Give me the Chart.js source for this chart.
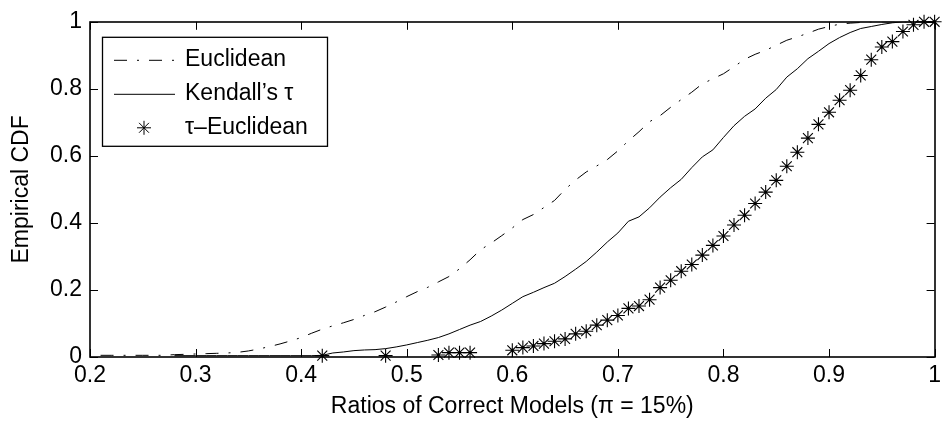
<!DOCTYPE html>
<html>
<head>
<meta charset="utf-8">
<title>Empirical CDF</title>
<script src="https://cdn.jsdelivr.net/npm/chart.js@4.4.1/dist/chart.umd.min.js"></script>
<style>
  html, body { margin: 0; padding: 0; background: #fff; }
  #wrap { width: 946px; height: 427px; }
</style>
</head>
<body>
<div id="wrap"><canvas id="cdfChart"></canvas></div>
<script>
// ratio of correct models on the x axis, one sample every 0.01
const ratios = [
  0.21, 0.22, 0.23, 0.24, 0.25, 0.26, 0.27, 0.28, 0.29, 0.30,
  0.31, 0.32, 0.33, 0.34, 0.35, 0.36, 0.37, 0.38, 0.39, 0.40,
  0.41, 0.42, 0.43, 0.44, 0.45, 0.46, 0.47, 0.48, 0.49, 0.50,
  0.51, 0.52, 0.53, 0.54, 0.55, 0.56, 0.57, 0.58, 0.59, 0.60,
  0.61, 0.62, 0.63, 0.64, 0.65, 0.66, 0.67, 0.68, 0.69, 0.70,
  0.71, 0.72, 0.73, 0.74, 0.75, 0.76, 0.77, 0.78, 0.79, 0.80,
  0.81, 0.82, 0.83, 0.84, 0.85, 0.86, 0.87, 0.88, 0.89, 0.90,
  0.91, 0.92, 0.93, 0.94, 0.95, 0.96, 0.97, 0.98, 0.99, 1.00
];

const euclideanCdf = [
  0.005, 0.005, 0.005, 0.005, 0.005, 0.005, 0.005, 0.007, 0.008, 0.009,
  0.010, 0.011, 0.012, 0.014, 0.018, 0.024, 0.031, 0.039, 0.048, 0.058,
  0.071, 0.083, 0.093, 0.102, 0.112, 0.124, 0.135, 0.149, 0.164, 0.180,
  0.195, 0.208, 0.224, 0.240, 0.263, 0.290, 0.320, 0.340, 0.362, 0.385,
  0.410, 0.425, 0.446, 0.467, 0.500, 0.528, 0.552, 0.570, 0.589, 0.615,
  0.645, 0.672, 0.702, 0.720, 0.745, 0.768, 0.790, 0.815, 0.830, 0.845,
  0.866, 0.888, 0.903, 0.915, 0.930, 0.945, 0.955, 0.966, 0.978, 0.986,
  0.993, 0.996, 0.998, 1.000, 1.000, 1.000, 1.000, 1.000, 1.000, 1.000
];

const kendallCdf = [
  null, null, null, null, null, null, null, 0.004, 0.004, 0.004,
  0.004, 0.004, 0.004, 0.004, 0.004, 0.004, 0.004, 0.004, 0.004, 0.004,
  0.004, 0.005, 0.012, 0.015, 0.019, 0.021, 0.022, 0.025, 0.030, 0.036,
  0.043, 0.050, 0.058, 0.069, 0.082, 0.095, 0.106, 0.122, 0.140, 0.160,
  0.180, 0.193, 0.207, 0.220, 0.240, 0.262, 0.285, 0.313, 0.343, 0.370,
  0.405, 0.418, 0.445, 0.477, 0.505, 0.530, 0.565, 0.597, 0.618, 0.655,
  0.690, 0.718, 0.740, 0.772, 0.798, 0.835, 0.860, 0.890, 0.912, 0.935,
  0.953, 0.968, 0.980, 0.986, 0.992, 0.997, 1.000, 1.000, 1.000, 1.000
];

const tauEuclideanCdf = [
  null, null, null, null, null, null, null, null, null, null,
  null, null, null, null, null, null, null, null, null, null,
  null, 0.004, null, null, null, null, null, 0.004, null, null,
  null, null, 0.006, 0.013, 0.013, 0.013, null, null, null, 0.020,
  0.028, 0.033, 0.040, 0.047, 0.054, 0.069, 0.077, 0.095, 0.110, 0.124,
  0.145, 0.152, 0.171, 0.207, 0.229, 0.256, 0.276, 0.304, 0.333, 0.361,
  0.394, 0.423, 0.458, 0.492, 0.527, 0.569, 0.611, 0.653, 0.694, 0.730,
  0.766, 0.796, 0.840, 0.887, 0.925, 0.941, 0.971, 0.991, 1.000, 1.000
];

const seriesNames = ['Euclidean', 'Kendall\u2019s \u03c4', '\u03c4\u2013Euclidean'];
const xTitle = 'Ratios of Correct Models (\u03c0 = 15%)';
const yTitle = 'Empirical CDF';

const FONT = '"Liberation Sans", Arial, Helvetica, sans-serif';
const DASH_DOT = [13, 10, 2, 10];
const STAR_R = 7;

Chart.defaults.font.family = FONT;
Chart.defaults.font.size = 23;
Chart.defaults.color = '#000';

function toPoints(values) {
  return ratios.map((x, i) => ({ x: x, y: values[i] }));
}

function drawStar(ctx, x, y, r) {
  const d = r * Math.SQRT1_2;
  ctx.beginPath();
  ctx.moveTo(x - r, y); ctx.lineTo(x + r, y);
  ctx.moveTo(x, y - r); ctx.lineTo(x, y + r);
  ctx.moveTo(x - d, y - d); ctx.lineTo(x + d, y + d);
  ctx.moveTo(x - d, y + d); ctx.lineTo(x + d, y - d);
  ctx.stroke();
}

// box around the axes with inward ticks on all four sides
const axesBox = {
  id: 'axesBox',
  afterDatasetsDraw(chart) {
    const { ctx, chartArea: a, scales } = chart;
    const tick = 8;
    ctx.save();
    ctx.strokeStyle = '#000';
    ctx.lineWidth = 1.6;
    ctx.strokeRect(Math.round(a.left), Math.round(a.top),
      Math.round(a.right - a.left), Math.round(a.bottom - a.top));
    ctx.lineWidth = 1;
    ctx.beginPath();
    scales.x.ticks.forEach(t => {
      const px = Math.round(scales.x.getPixelForValue(t.value)) + 0.5;
      ctx.moveTo(px, a.bottom); ctx.lineTo(px, a.bottom - tick);
      ctx.moveTo(px, a.top); ctx.lineTo(px, a.top + tick);
    });
    scales.y.ticks.forEach(t => {
      const py = Math.round(scales.y.getPixelForValue(t.value)) + 0.5;
      ctx.moveTo(a.left, py); ctx.lineTo(a.left + tick, py);
      ctx.moveTo(a.right, py); ctx.lineTo(a.right - tick, py);
    });
    ctx.stroke();
    ctx.restore();
  }
};

// boxed legend in the upper left corner
const boxLegend = {
  id: 'boxLegend',
  afterDraw(chart) {
    const { ctx, chartArea: a } = chart;
    const left = a.left + 12, top = a.top + 15, w = 225, h = 109;
    const rows = [38, 72, 106];
    ctx.save();
    ctx.fillStyle = '#fff';
    ctx.fillRect(left, top, w, h);
    ctx.strokeStyle = '#000';
    ctx.lineWidth = 1.3;
    ctx.strokeRect(left + 0.5, top + 0.5, w, h);

    chart.data.datasets.forEach((ds, i) => {
      const y = a.top + rows[i];
      ctx.strokeStyle = '#000';
      ctx.lineWidth = 1;
      if (ds.showLine === false) {
        drawStar(ctx, a.left + 54, y, STAR_R);
      } else {
        ctx.setLineDash(ds.borderDash || []);
        ctx.beginPath();
        ctx.moveTo(a.left + 24, y + 0.5);
        ctx.lineTo(a.left + 85, y + 0.5);
        ctx.stroke();
        ctx.setLineDash([]);
      }
      ctx.fillStyle = '#000';
      ctx.font = '23px ' + FONT;
      ctx.textBaseline = 'middle';
      ctx.textAlign = 'left';
      ctx.fillText(ds.label, a.left + 95, y);
    });
    ctx.restore();
  }
};

const ctx = document.getElementById('cdfChart').getContext('2d');
new Chart(ctx, {
  type: 'line',
  data: {
    datasets: [
      {
        label: seriesNames[0],
        data: toPoints(euclideanCdf),
        borderColor: '#000',
        borderWidth: 1,
        borderDash: DASH_DOT,
        pointRadius: 0,
        tension: 0
      },
      {
        label: seriesNames[1],
        data: toPoints(kendallCdf),
        borderColor: '#000',
        borderWidth: 1,
        pointRadius: 0,
        tension: 0
      },
      {
        label: seriesNames[2],
        data: toPoints(tauEuclideanCdf),
        showLine: false,
        pointStyle: 'star',
        pointRadius: STAR_R,
        pointBorderColor: '#000',
        pointBorderWidth: 1.1,
        clip: false
      }
    ]
  },
  options: {
    responsive: true,
    maintainAspectRatio: false,
    animation: false,
    devicePixelRatio: 1,
    layout: { padding: { top: 14, right: 7, bottom: 0, left: 0 } },
    plugins: {
      legend: { display: false },
      tooltip: { enabled: false }
    },
    scales: {
      x: {
        type: 'linear',
        min: 0.2,
        max: 1,
        ticks: {
          stepSize: 0.1,
          padding: 5,
          callback: v => String(+v.toFixed(1))
        },
        grid: { display: false, drawTicks: false },
        border: { display: false },
        title: {
          display: true,
          text: xTitle,
          padding: { top: 0, bottom: 7 }
        },
        afterFit: s => { s.height = 70; }
      },
      y: {
        min: 0,
        max: 1,
        ticks: {
          stepSize: 0.2,
          padding: 8,
          callback: v => String(+v.toFixed(1))
        },
        grid: { display: false, drawTicks: false },
        border: { display: false },
        title: {
          display: true,
          text: yTitle,
          padding: { top: 8, bottom: 0 }
        },
        afterFit: s => { s.width = 90; }
      }
    }
  },
  plugins: [axesBox, boxLegend]
});
</script>
</body>
</html>
